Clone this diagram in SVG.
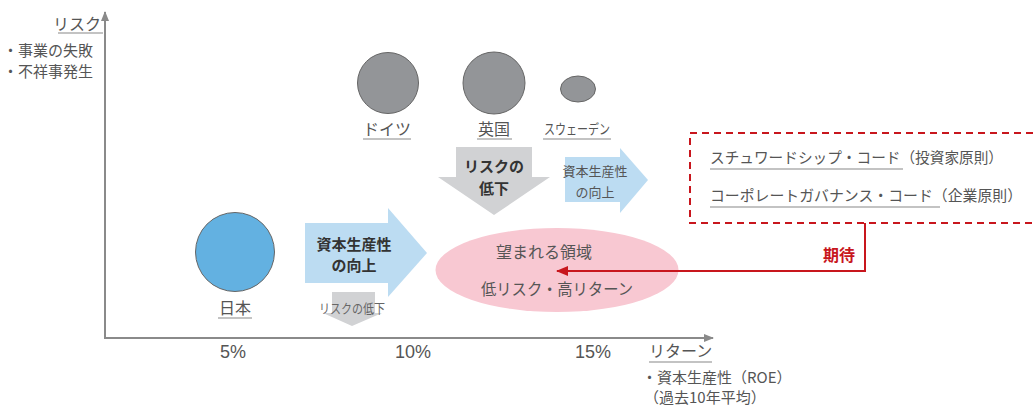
<svg xmlns="http://www.w3.org/2000/svg" width="1033" height="406" viewBox="0 0 1033 406">
<defs>
<style>
text{font-family:"Noto Sans CJK JP","Liberation Sans",sans-serif;fill:#555;font-size:16px;dominant-baseline:central}
.c{text-anchor:middle}
.b{font-weight:bold;fill:#333}
.s{font-size:13px}
.m{font-size:15px}
.pct{font-family:"Liberation Sans",Arial,sans-serif;font-size:18px;fill:#555}
.ul{stroke:#888;stroke-width:1.2;fill:none}
.ax{stroke:#8a8a8a;stroke-width:2;fill:none}
.country{fill:#939598;stroke:#666;stroke-width:1}
</style>
<marker id="axh" markerWidth="10" markerHeight="8" refX="9" refY="4" orient="auto" markerUnits="userSpaceOnUse"><path d="M0,0 L10,4 L0,8 Z" fill="#8a8a8a"/></marker>
<marker id="redh" markerWidth="12" markerHeight="10" refX="11" refY="5" orient="auto" markerUnits="userSpaceOnUse"><path d="M0,0 L12,5 L0,10 Z" fill="#c8161d"/></marker>
</defs>
<rect width="1033" height="406" fill="#fff"/>

<g id="axes">
<line class="ax" x1="105" y1="338" x2="105" y2="12" marker-end="url(#axh)"/>
<line class="ax" x1="104" y1="338" x2="713" y2="338" marker-end="url(#axh)"/>
</g>

<g id="y-label">
<text x="101" y="23" style="text-anchor:end">リスク</text>
<line class="ul" x1="58" y1="33" x2="103" y2="33"/>
<text class="m" x="3" y="49">・事業の失敗</text>
<text class="m" x="3" y="70">・不祥事発生</text>
</g>

<g id="x-label">
<text class="c pct" x="233" y="352">5%</text>
<text class="c pct" x="413" y="352">10%</text>
<text class="c pct" x="593" y="352">15%</text>
<text x="649" y="350">リターン</text>
<line class="ul" x1="649" y1="362" x2="712" y2="362"/>
<text class="m" x="642" y="376">・資本生産性（ROE）</text>
<text class="m" x="644" y="396">（過去10年平均）</text>
</g>

<g id="germany">
<circle class="country" cx="388" cy="83" r="30.5"/>
<text class="c" x="387" y="128">ドイツ</text>
<line class="ul" x1="363" y1="139" x2="411" y2="139"/>
</g>
<g id="uk">
<circle class="country" cx="494" cy="83" r="31"/>
<text class="c" x="494" y="128">英国</text>
<line class="ul" x1="477" y1="139" x2="512" y2="139"/>
</g>
<g id="sweden">
<ellipse class="country" cx="578" cy="89" rx="17.5" ry="13"/>
<text class="c" x="577" y="128" style="font-size:14px" textLength="66" lengthAdjust="spacingAndGlyphs">スウェーデン</text>
<line class="ul" x1="543" y1="139" x2="611" y2="139"/>
</g>

<g id="risk-down-arrow">
<path d="M456,147 H532 V177 H550 L494,215 L438,177 H456 Z" fill="#d1d2d4"/>
<text class="c b m" x="494" y="165">リスクの</text>
<text class="c b m" x="494" y="187">低下</text>
</g>

<g id="productivity-arrow-small">
<path d="M565,157 H620 V148 L648,180 L620,213 V202 H565 Z" fill="#bcdcf2"/>
<text class="c s" x="595" y="170">資本生産性</text>
<text class="c s" x="595" y="191">の向上</text>
</g>

<g id="japan">
<circle cx="235" cy="252" r="39.5" fill="#63b1e1" stroke="#666" stroke-width="1"/>
<text class="c" x="235" y="307">日本</text>
<line class="ul" x1="218" y1="318" x2="252" y2="318"/>
</g>

<g id="risk-down-arrow-small">
<path d="M332,292 H375 V313 H382 L352,326 L323,313 H332 Z" fill="#d1d2d4"/>
<text class="c s" x="352" y="307" textLength="66" lengthAdjust="spacingAndGlyphs" style="fill:#666">リスクの低下</text>
</g>

<g id="productivity-arrow-large">
<path d="M305,223 H388 V208 L427,253 L388,297 V283 H305 Z" fill="#bcdcf2"/>
<text class="c b m" x="354" y="243">資本生産性</text>
<text class="c b m" x="354" y="264">の向上</text>
</g>

<g id="target-zone">
<ellipse cx="557" cy="270" rx="121.5" ry="42" fill="#f8c8d2"/>
<text class="c" x="544" y="251">望まれる領域</text>
<text class="c" x="557" y="288" textLength="152" lengthAdjust="spacingAndGlyphs">低リスク・高リターン</text>
</g>

<g id="codes">
<rect x="690" y="133" width="360" height="90" fill="none" stroke="#c8161d" stroke-width="2" stroke-dasharray="7,5"/>
<text class="m" x="710" y="156" textLength="293" lengthAdjust="spacingAndGlyphs">スチュワードシップ・コード（投資家原則）</text>
<line class="ul" x1="710" y1="169" x2="903" y2="169"/>
<text class="m" x="710" y="194" textLength="312" lengthAdjust="spacingAndGlyphs">コーポレートガバナンス・コード（企業原則）</text>
<line class="ul" x1="710" y1="207" x2="940" y2="207"/>
</g>

<g id="connectors">
<polyline points="865,223 865,271 557,271" fill="none" stroke="#c8161d" stroke-width="2" marker-end="url(#redh)"/>
<text class="c b" x="839" y="254" style="fill:#c8161d">期待</text>
</g>
</svg>
